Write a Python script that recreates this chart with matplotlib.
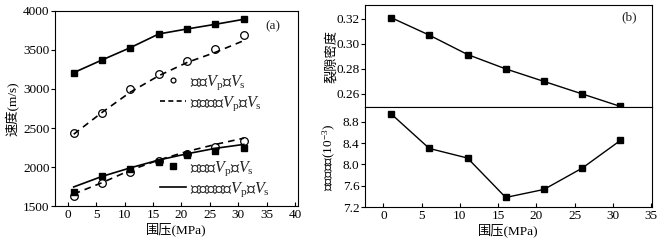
import numpy as np
import matplotlib.pyplot as plt

plt.rcParams['font.family'] = ['Liberation Serif', 'Noto Sans CJK SC']
plt.rcParams['mathtext.fontset'] = 'custom'
plt.rcParams['mathtext.rm'] = 'Noto Sans CJK SC'
plt.rcParams['mathtext.it'] = 'Liberation Serif:italic'
plt.rcParams['mathtext.bf'] = 'Noto Sans CJK SC:bold'
plt.rcParams['mathtext.sf'] = 'Liberation Serif'
plt.rcParams['font.size'] = 9.5
plt.rcParams['text.color'] = '#222222'

# confining pressure (MPa)
pressure = [1, 6, 11, 16, 21, 26, 31]

# panel (a): velocities (m/s)
dry_vp = [3209, 3372, 3530, 3705, 3769, 3829, 3893]
dry_vs = [2430, 2690, 3000, 3195, 3363, 3513, 3692]
dry_theory = [2420, 2700, 2960, 3170, 3340, 3470, 3620]
sat_sq = [1675, 1880, 1975, 2070, 2150, 2210, 2245]
sat_circ = [1628, 1790, 1932, 2080, 2170, 2260, 2330]
sat_theory_solid = [1745, 1880, 1990, 2090, 2170, 2240, 2290]
sat_theory_dash = [1654, 1800, 1960, 2090, 2200, 2290, 2370]

# panel (b): crack density and aspect ratio (1e-3)
crack_density = [0.321, 0.307, 0.2915, 0.280, 0.270, 0.260, 0.250]
aspect_ratio = [8.95, 8.30, 8.12, 7.38, 7.53, 7.93, 8.45]

fig = plt.figure(figsize=(6.65, 2.43), dpi=100)

# ---- panel (a)
ax = fig.add_axes([0.0827, 0.152, 0.365, 0.803])
ax.plot(pressure, dry_vp, '-', color='k', lw=1.2, marker='s', ms=5)
ax.plot(pressure, dry_vs, 'o', color='k', mfc='white', ms=5.5, mew=0.9)
ax.plot(pressure, dry_theory, '--', color='k', lw=1.2, dashes=(4, 3))
ax.plot(pressure, sat_circ, 'o', color='k', mfc='white', ms=5.5, mew=0.9)
ax.plot(pressure, sat_sq, 's', color='k', ms=5)
ax.plot(pressure, sat_theory_dash, '--', color='k', lw=1.2, dashes=(4, 3))
ax.plot(pressure, sat_theory_solid, '-', color='k', lw=1.2)

vpvs = r'$V_\mathsf{p}$和$V_\mathsf{s}$'
h1, = ax.plot([], [], 'o', color='k', mfc='white', ms=3.5, mew=0.9)
h2, = ax.plot([], [], '--', color='k', lw=1.2, dashes=(3, 2))
h3, = ax.plot([], [], 's', color='k', ms=4)
h4, = ax.plot([], [], '-', color='k', lw=1.2)
leg1 = ax.legend([h1, h2], ['干燥' + vpvs, '理论干燥' + vpvs], fontsize=11.5,
                 loc='upper left', bbox_to_anchor=(0.40, 0.72), frameon=False,
                 handlelength=1.6, handletextpad=0.3, labelspacing=0.15, borderpad=0)
ax.add_artist(leg1)
ax.legend([h3, h4], ['水饱和' + vpvs, '理论水饱和' + vpvs], fontsize=11.5,
          loc='upper left', bbox_to_anchor=(0.40, 0.28), frameon=False,
          handlelength=1.6, handletextpad=0.3, labelspacing=0.15, borderpad=0)

ax.set_xlim(-2.3, 40.5)
ax.set_ylim(1500, 4000)
ax.set_xticks(range(0, 41, 5))
ax.set_yticks(range(1500, 4001, 500))
ax.tick_params(axis='x', direction='in', length=3, pad=2)
ax.tick_params(axis='y', direction='out', length=3, pad=1)
ax.set_xlabel('围压(MPa)', labelpad=1)
ax.set_ylabel('速度(m/s)', labelpad=2)
ax.text(0.93, 0.92, '(a)', transform=ax.transAxes, ha='right', va='center')

# ---- panel (b) top
axt = fig.add_axes([0.549, 0.560, 0.431, 0.419])
axt.plot(pressure, crack_density, '-', color='k', lw=1.0, marker='s', ms=5)
axt.set_xlim(-2.4, 35.1)
axt.set_ylim(0.2496, 0.331)
axt.set_yticks([0.26, 0.28, 0.30, 0.32])
axt.set_yticklabels(['0.26', '0.28', '0.30', '0.32'])
axt.set_xticks([])
axt.tick_params(axis='y', direction='out', length=3, pad=1)
axt.set_ylabel('裂隙密度')
axt.yaxis.set_label_coords(-0.095, 0.5)
axt.text(0.95, 0.88, '(b)', transform=axt.transAxes, ha='right', va='center')

# ---- panel (b) bottom
axb = fig.add_axes([0.549, 0.148, 0.431, 0.412])
axb.plot(pressure, aspect_ratio, '-', color='k', lw=1.0, marker='s', ms=5)
axb.set_xlim(-2.4, 35.1)
axb.set_ylim(7.2, 9.08)
axb.set_yticks([7.2, 7.6, 8.0, 8.4, 8.8])
axb.set_xticks(range(0, 36, 5))
axb.tick_params(axis='x', direction='in', length=3, pad=2)
axb.tick_params(axis='y', direction='out', length=3, pad=1)
axb.set_xlabel('围压(MPa)', labelpad=1)
axb.set_ylabel('裂隙纵横比(10$^{\\mathsf{-3}}$)')
axb.yaxis.set_label_coords(-0.095, 0.5)

fig.savefig('out.png', dpi=100)
